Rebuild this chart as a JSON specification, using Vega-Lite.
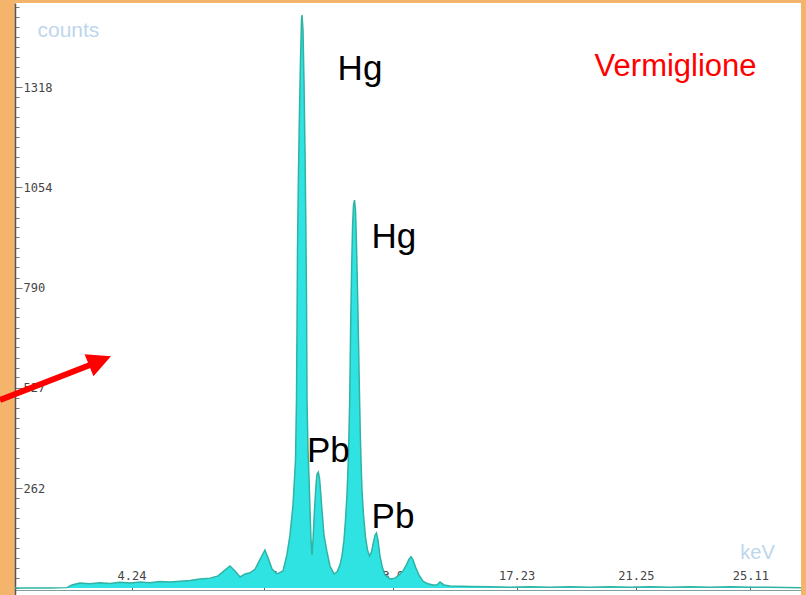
{
  "$schema": "https://vega.github.io/schema/vega-lite/v6.json",
  "width": 786,
  "height": 592,
  "autosize": {"type": "none"},
  "padding": {"left": 15, "top": 3, "right": 5, "bottom": 0},
  "background": "#F4B46C",
  "config": {"view": {"fill": "white", "stroke": null}},
  "datasets": {
    "spectrum": [
      {"keV": 0.31, "counts": 0}, {"keV": 0.82, "counts": 0}, {"keV": 1.49, "counts": 0}, {"keV": 2.06, "counts": 1},
      {"keV": 2.23, "counts": 8}, {"keV": 2.50, "counts": 13}, {"keV": 2.84, "counts": 11}, {"keV": 3.18, "counts": 14},
      {"keV": 3.51, "counts": 12}, {"keV": 3.85, "counts": 15}, {"keV": 4.19, "counts": 13}, {"keV": 4.53, "counts": 16},
      {"keV": 4.86, "counts": 14}, {"keV": 5.20, "counts": 17}, {"keV": 5.54, "counts": 16}, {"keV": 5.88, "counts": 18},
      {"keV": 6.21, "counts": 20}, {"keV": 6.55, "counts": 24}, {"keV": 6.89, "counts": 26}, {"keV": 7.16, "counts": 32},
      {"keV": 7.36, "counts": 45}, {"keV": 7.56, "counts": 58}, {"keV": 7.73, "counts": 45}, {"keV": 7.90, "counts": 29},
      {"keV": 8.07, "counts": 37}, {"keV": 8.24, "counts": 40}, {"keV": 8.41, "counts": 50}, {"keV": 8.57, "counts": 75},
      {"keV": 8.74, "counts": 100}, {"keV": 8.84, "counts": 80}, {"keV": 8.98, "counts": 50}, {"keV": 9.15, "counts": 37},
      {"keV": 9.35, "counts": 45}, {"keV": 9.48, "counts": 87}, {"keV": 9.585, "counts": 139}, {"keV": 9.686, "counts": 218},
      {"keV": 9.771, "counts": 337}, {"keV": 9.804, "counts": 495}, {"keV": 9.821, "counts": 679}, {"keV": 9.838, "counts": 889},
      {"keV": 9.872, "counts": 1100}, {"keV": 9.906, "counts": 1258}, {"keV": 9.939, "counts": 1389}, {"keV": 9.973, "counts": 1495},
      {"keV": 9.990, "counts": 1508}, {"keV": 10.024, "counts": 1468}, {"keV": 10.057, "counts": 1337}, {"keV": 10.091, "counts": 1153},
      {"keV": 10.118, "counts": 968}, {"keV": 10.142, "counts": 758}, {"keV": 10.159, "counts": 495}, {"keV": 10.192, "counts": 363},
      {"keV": 10.226, "counts": 292}, {"keV": 10.260, "counts": 205}, {"keV": 10.294, "counts": 126}, {"keV": 10.327, "counts": 87},
      {"keV": 10.361, "counts": 126}, {"keV": 10.411, "counts": 205}, {"keV": 10.462, "counts": 271}, {"keV": 10.496, "counts": 300},
      {"keV": 10.540, "counts": 305}, {"keV": 10.580, "counts": 289}, {"keV": 10.614, "counts": 258}, {"keV": 10.664, "counts": 205},
      {"keV": 10.732, "counts": 139}, {"keV": 10.833, "counts": 95}, {"keV": 10.934, "counts": 58}, {"keV": 11.069, "counts": 37},
      {"keV": 11.170, "counts": 42}, {"keV": 11.272, "counts": 61}, {"keV": 11.339, "counts": 84}, {"keV": 11.406, "counts": 126},
      {"keV": 11.457, "counts": 179}, {"keV": 11.507, "counts": 245}, {"keV": 11.558, "counts": 350}, {"keV": 11.599, "counts": 495},
      {"keV": 11.629, "counts": 679}, {"keV": 11.663, "counts": 837}, {"keV": 11.697, "counts": 955}, {"keV": 11.727, "counts": 1008},
      {"keV": 11.761, "counts": 1021}, {"keV": 11.794, "counts": 995}, {"keV": 11.828, "counts": 903}, {"keV": 11.862, "counts": 784},
      {"keV": 11.895, "counts": 653}, {"keV": 11.926, "counts": 521}, {"keV": 11.953, "counts": 416}, {"keV": 11.980, "counts": 337},
      {"keV": 12.013, "counts": 258}, {"keV": 12.064, "counts": 192}, {"keV": 12.132, "counts": 134}, {"keV": 12.199, "counts": 100},
      {"keV": 12.267, "counts": 84}, {"keV": 12.334, "counts": 95}, {"keV": 12.401, "counts": 121}, {"keV": 12.452, "counts": 139},
      {"keV": 12.502, "counts": 145}, {"keV": 12.553, "counts": 126}, {"keV": 12.620, "counts": 84}, {"keV": 12.705, "counts": 53},
      {"keV": 12.789, "counts": 34}, {"keV": 12.958, "counts": 24}, {"keV": 13.127, "counts": 26}, {"keV": 13.261, "counts": 34},
      {"keV": 13.396, "counts": 45}, {"keV": 13.514, "counts": 61}, {"keV": 13.599, "counts": 76}, {"keV": 13.666, "counts": 82},
      {"keV": 13.734, "counts": 74}, {"keV": 13.818, "counts": 55}, {"keV": 13.936, "counts": 34}, {"keV": 14.071, "counts": 18},
      {"keV": 14.240, "counts": 11}, {"keV": 14.408, "counts": 8}, {"keV": 14.543, "counts": 8}, {"keV": 14.644, "counts": 16},
      {"keV": 14.779, "counts": 8}, {"keV": 14.981, "counts": 5}, {"keV": 15.66, "counts": 4}, {"keV": 16.33, "counts": 3},
      {"keV": 17.00, "counts": 2}, {"keV": 17.68, "counts": 3}, {"keV": 18.35, "counts": 2}, {"keV": 19.02, "counts": 3},
      {"keV": 19.70, "counts": 2}, {"keV": 20.38, "counts": 3}, {"keV": 21.05, "counts": 2}, {"keV": 21.73, "counts": 3},
      {"keV": 22.40, "counts": 2}, {"keV": 23.07, "counts": 3}, {"keV": 23.75, "counts": 2}, {"keV": 24.43, "counts": 3},
      {"keV": 25.10, "counts": 2}, {"keV": 25.77, "counts": 2}, {"keV": 26.82, "counts": 1}
    ],
    "elements": [
      {"keV": 11.946, "counts": 1337, "label": "Hg"},
      {"keV": 13.09, "counts": 895, "label": "Hg"},
      {"keV": 10.88, "counts": 332, "label": "Pb"},
      {"keV": 13.06, "counts": 158, "label": "Pb"}
    ],
    "pigment": [
      {"keV": 22.59, "counts": 1347, "label": "Vermiglione"}
    ],
    "arrowShaft": [
      {"keV": -0.196, "counts": 495},
      {"keV": 2.907, "counts": 589}
    ],
    "arrowHead": [
      {"keV": 3.177, "counts": 598}
    ]
  },
  "encoding": {
    "x": {
      "field": "keV",
      "type": "quantitative",
      "scale": {"domain": [0.31, 26.82], "nice": false, "zero": false},
      "axis": {
        "orient": "bottom",
        "offset": -5,
        "values": [4.24, 8.71, 13.05, 17.23, 21.25, 25.11],
        "format": ".2f",
        "grid": false,
        "domainColor": "#7f9f9c",
        "domainWidth": 1,
        "tickColor": "#666666",
        "tickSize": -4,
        "tickWidth": 1,
        "labelPadding": -11,
        "labelBaseline": "middle",
        "labelFlush": false,
        "labelOverlap": false,
        "labelFont": "DejaVu Sans Mono",
        "labelFontSize": 12,
        "labelColor": "#444444",
        "title": "keV",
        "titleFont": "Liberation Sans",
        "titleFontSize": 20,
        "titleFontWeight": "normal",
        "titleColor": "#BDD6EC",
        "titleX": 742,
        "titleY": -38,
        "titleAlign": "center",
        "titleBaseline": "middle"
      }
    },
    "y": {
      "field": "counts",
      "type": "quantitative",
      "scale": {"domain": [-18.4, 1539.5], "nice": false, "zero": false},
      "axis": {
        "orient": "left",
        "values": [0, 26, 53, 79, 105, 132, 158, 185, 211, 237, 262, 290, 316, 343, 369, 395, 422, 448, 474, 501, 527, 554, 580, 606, 633, 659, 685, 712, 738, 764, 790, 817, 844, 870, 896, 923, 949, 975, 1002, 1028, 1054, 1081, 1107, 1133, 1160, 1186, 1212, 1239, 1265, 1292, 1318, 1344, 1371, 1397, 1423, 1450, 1476, 1502, 1529],
        "format": "d",
        "labelExpr": "indexof([262, 527, 790, 1054, 1318], datum.value) >= 0 ? datum.label : ''",
        "grid": false,
        "domainColor": "#555555",
        "domainWidth": 1.5,
        "tickColor": "#777777",
        "tickSize": {"condition": {"test": "indexof([262, 527, 790, 1054, 1318], datum.value) >= 0", "value": -7}, "value": -4},
        "tickWidth": 1,
        "labelAlign": "left",
        "labelBaseline": "middle",
        "labelPadding": -1,
        "labelOverlap": false,
        "labelBound": false,
        "labelFont": "DejaVu Sans Mono",
        "labelFontSize": 12,
        "labelColor": "#444444",
        "title": "counts",
        "titleAngle": 0,
        "titleX": 22,
        "titleY": 27,
        "titleAlign": "left",
        "titleBaseline": "middle",
        "titleFont": "Liberation Sans",
        "titleFontSize": 21,
        "titleFontWeight": "normal",
        "titleColor": "#BDD6EC"
      }
    }
  },
  "layer": [
    {
      "data": {"name": "spectrum"},
      "mark": {"type": "area", "color": "#30E3E3", "opacity": 1},
      "encoding": {"y2": {"datum": 0}}
    },
    {
      "data": {"name": "spectrum"},
      "mark": {"type": "line", "color": "#2FB3A5", "strokeWidth": 1.5}
    },
    {
      "data": {"name": "elements"},
      "mark": {"type": "text", "font": "Liberation Sans", "fontSize": 35, "color": "#000000", "align": "center", "baseline": "alphabetic"},
      "encoding": {"text": {"field": "label"}}
    },
    {
      "data": {"name": "pigment"},
      "mark": {"type": "text", "font": "Liberation Sans", "fontSize": 31, "color": "#FF0000", "align": "center", "baseline": "alphabetic"},
      "encoding": {"text": {"field": "label"}}
    },
    {
      "data": {"name": "arrowShaft"},
      "mark": {"type": "line", "color": "#FF0000", "strokeWidth": 6, "strokeCap": "butt"}
    },
    {
      "data": {"name": "arrowHead"},
      "mark": {"type": "point", "shape": "M-1,-1L1,0L-1,1Z", "size": 560, "angle": 338, "filled": true, "color": "#FF0000", "opacity": 1, "strokeWidth": 0}
    }
  ]
}
